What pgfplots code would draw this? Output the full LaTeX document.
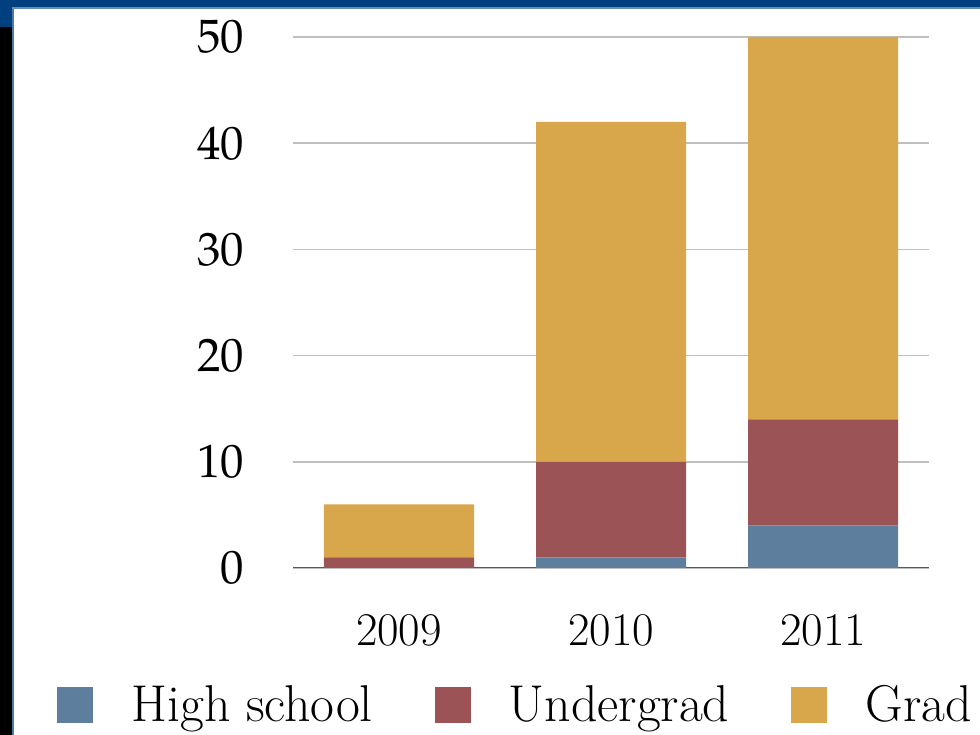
\documentclass[border=0pt]{standalone}
\usepackage{pgfplots}
\pgfplotsset{compat=1.18}
\usepackage{mathpazo}
\definecolor{hsc}{HTML}{5E7E9E}
\definecolor{ugc}{HTML}{9C5355}
\definecolor{grc}{HTML}{D8A64B}
\definecolor{bandblue}{HTML}{00407F}
\pgfplotstableread{
idx hs ug grad
0 0 1 5
1 1 9 32
2 4 10 36
}\datatable
\begin{document}
\begin{tikzpicture}
\path[use as bounding box] (0bp,0bp) rectangle (490bp,367.5bp);
\fill[white] (0bp,0bp) rectangle (490bp,367.5bp);
\fill[black] (0bp,0bp) rectangle (6bp,367.5bp);
\fill[bandblue] (0bp,354bp) rectangle (6bp,367.5bp);
\fill[bandblue!70!white] (6bp,0bp) rectangle (7.2bp,363.5bp);
\fill[bandblue] (0bp,363.5bp) rectangle (490bp,367.5bp);
\fill[bandblue!60!white] (6bp,363bp) rectangle (490bp,363.8bp);
\begin{axis}[
  at={(146.5bp,83.5bp)}, anchor=south west,
  scale only axis, width=318bp, height=265.5bp,
  xmin=-0.5, xmax=2.5, ymin=0, ymax=50,
  ybar stacked, bar width=75bp,
  axis line style={draw=none},
  major tick length=0pt,
  xtick=data, xticklabels={2009,2010,2011},
  ytick={0,10,20,30,40,50},
  ymajorgrids, grid style={black!25, line width=0.8pt},
  tick label style={font=\fontsize{23.5}{28}\selectfont},
  yticklabel style={xshift=-21bp},
  xticklabel style={yshift=-20bp},
  legend columns=3,
  legend image code/.code={\fill[#1] (0bp,-9bp) rectangle (18bp,9bp);},
  legend style={at={(axis description cs:-0.371,-0.258)}, anchor=west,
    draw=none, fill=none, inner sep=0pt,
    font=\fontsize{26}{30}\selectfont,
    nodes={inner sep=0pt},
    /tikz/every odd column/.append style={column sep=19bp},
    /tikz/every even column/.append style={column sep=31bp}},
]
\addplot[fill=hsc, draw=none] table[x=idx, y=hs] {\datatable};
\addplot[fill=ugc, draw=none] table[x=idx, y=ug] {\datatable};
\addplot[fill=grc, draw=none] table[x=idx, y=grad] {\datatable};
\legend{High school, Undergrad, Grad}
\draw[black!65, line width=1pt] (axis cs:-0.5,0) -- (axis cs:2.5,0);
\end{axis}
\end{tikzpicture}
\end{document}
